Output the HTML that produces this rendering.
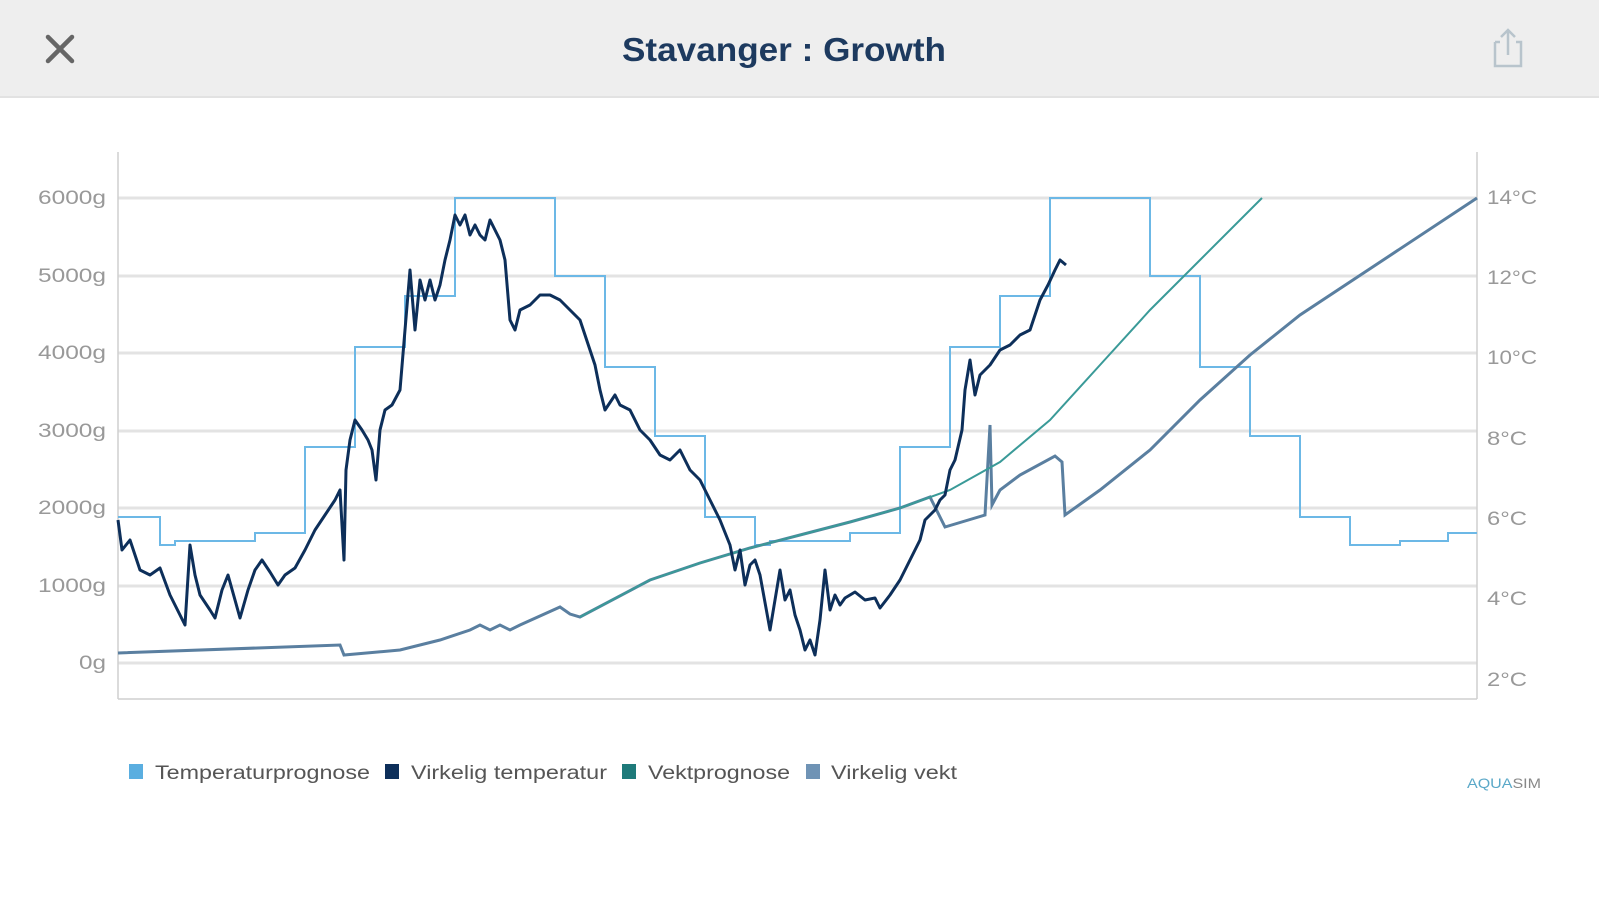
<!DOCTYPE html>
<html><head><meta charset="utf-8"><style>
html,body{margin:0;padding:0;background:#fff;width:1599px;height:900px;overflow:hidden;font-family:"Liberation Sans",sans-serif}
</style></head><body>
<svg width="1599" height="900" viewBox="0 0 1599 900" xmlns="http://www.w3.org/2000/svg" style="display:block">
<rect x="0" y="0" width="1599" height="96" fill="#eeeeee"/>
<rect x="0" y="96" width="1599" height="2" fill="#e2e2e2"/>
<path d="M48 37 L72 61 M72 37 L48 61" stroke="#666" stroke-width="4.5" stroke-linecap="round"/>
<text x="622" y="61" textLength="324" lengthAdjust="spacingAndGlyphs" font-size="33" font-weight="bold" fill="#1d3a5f">Stavanger : Growth</text>
<g stroke="#b8c4cc" stroke-width="2.5" fill="none"><path d="M1495 42 V66 H1521 V42 H1516 M1500 42 H1495"/><path d="M1508 30 V55 M1501 37 L1508 30 L1515 37"/></g>
<g stroke="#e3e3e3" stroke-width="3">
<line x1="118" y1="198" x2="1477" y2="198"/><line x1="118" y1="276" x2="1477" y2="276"/><line x1="118" y1="353" x2="1477" y2="353"/><line x1="118" y1="431" x2="1477" y2="431"/><line x1="118" y1="508" x2="1477" y2="508"/><line x1="118" y1="586" x2="1477" y2="586"/><line x1="118" y1="663" x2="1477" y2="663"/>
</g>
<g stroke="#cfcfcf" stroke-width="1.5"><line x1="118" y1="152" x2="118" y2="699"/><line x1="1477" y1="152" x2="1477" y2="699"/><line x1="118" y1="699" x2="1477" y2="699"/></g>
<g font-size="19" fill="#999">
<text x="38" y="204" textLength="68" lengthAdjust="spacingAndGlyphs">6000g</text><text x="38" y="282" textLength="68" lengthAdjust="spacingAndGlyphs">5000g</text><text x="38" y="359" textLength="68" lengthAdjust="spacingAndGlyphs">4000g</text><text x="38" y="437" textLength="68" lengthAdjust="spacingAndGlyphs">3000g</text><text x="38" y="514" textLength="68" lengthAdjust="spacingAndGlyphs">2000g</text><text x="38" y="592" textLength="68" lengthAdjust="spacingAndGlyphs">1000g</text><text x="79" y="669" textLength="27" lengthAdjust="spacingAndGlyphs">0g</text>
</g>
<g font-size="19" fill="#999">
<text x="1487" y="204" textLength="50" lengthAdjust="spacingAndGlyphs">14°C</text><text x="1487" y="284" textLength="50" lengthAdjust="spacingAndGlyphs">12°C</text><text x="1487" y="364" textLength="50" lengthAdjust="spacingAndGlyphs">10°C</text><text x="1487" y="445" textLength="40" lengthAdjust="spacingAndGlyphs">8°C</text><text x="1487" y="525" textLength="40" lengthAdjust="spacingAndGlyphs">6°C</text><text x="1487" y="605" textLength="40" lengthAdjust="spacingAndGlyphs">4°C</text><text x="1487" y="686" textLength="40" lengthAdjust="spacingAndGlyphs">2°C</text>
</g>
<polyline fill="none" stroke="#6cb8e6" stroke-width="2" points="118,517 160,517 160,545 175,545 175,541 255,541 255,533 305,533 305,447 355,447 355,347 405,347 405,296 455,296 455,198 555,198 555,276 605,276 605,367 655,367 655,436 705,436 705,517 755,517 755,545 770,545 770,541 850,541 850,533 900,533 900,447 950,447 950,347 1000,347 1000,296 1050,296 1050,198 1150,198 1150,276 1200,276 1200,367 1250,367 1250,436 1300,436 1300,517 1350,517 1350,545 1400,545 1400,541 1448,541 1448,533 1477,533"/>
<polyline fill="none" stroke="#5a7fa0" stroke-width="3" points="118,653 340,645 344,655 400,650 440,640 470,630 480,625 490,630 500,625 510,630 520,625 560,607 570,614 580,617 650,580 700,563 750,548 800,535 850,522 900,508 930,497 945,527 985,515 990,425 992,505 1000,490 1020,475 1055,456 1062,462 1065,515 1100,490 1150,450 1200,400 1250,355 1300,315 1477,198"/>
<polyline fill="none" stroke="#3a9a98" stroke-width="2" points="580,617 650,580 700,563 750,548 800,535 850,522 900,508 950,490 1000,462 1050,420 1100,365 1150,310 1200,260 1262,198"/>
<polyline fill="none" stroke="#0d2f5a" stroke-width="3" stroke-linejoin="round" points="118,520 122,550 130,540 140,570 150,575 160,568 170,595 180,615 185,625 190,545 195,575 200,595 210,610 215,618 222,590 228,575 235,600 240,618 248,590 255,570 262,560 270,572 278,585 285,575 295,568 305,550 315,530 325,515 335,500 340,490 344,560 346,470 350,440 355,420 362,430 368,440 372,450 376,480 380,430 385,410 392,405 400,390 405,330 410,270 415,330 420,280 425,300 430,280 435,300 440,285 445,260 450,240 455,215 460,225 465,215 470,235 475,225 480,235 485,240 490,220 495,230 500,240 505,260 510,320 515,330 520,310 530,305 540,295 550,295 560,300 570,310 580,320 585,335 590,350 595,365 600,390 605,410 615,395 620,405 630,410 640,430 650,440 660,455 670,460 680,450 690,470 700,480 710,500 720,520 730,545 735,570 740,550 745,585 750,565 755,560 760,575 770,630 775,600 780,570 785,600 790,590 795,615 800,630 805,650 810,640 815,655 820,620 825,570 830,610 835,595 840,605 845,598 855,592 865,600 875,598 880,608 890,595 900,580 910,560 920,540 925,520 935,510 940,500 945,495 950,470 955,460 962,430 965,390 970,360 975,395 980,375 990,365 1000,350 1010,345 1020,335 1030,330 1040,300 1048,285 1055,270 1060,260 1066,265"/>
<g font-size="19" fill="#555">
<rect x="129" y="764" width="14" height="15" fill="#5aaee0"/><text x="155" y="779" textLength="215" lengthAdjust="spacingAndGlyphs">Temperaturprognose</text>
<rect x="385" y="764" width="14" height="15" fill="#0d2f5a"/><text x="411" y="779" textLength="196" lengthAdjust="spacingAndGlyphs">Virkelig temperatur</text>
<rect x="622" y="764" width="14" height="15" fill="#1e7a7a"/><text x="648" y="779" textLength="142" lengthAdjust="spacingAndGlyphs">Vektprognose</text>
<rect x="806" y="764" width="14" height="15" fill="#6f93b5"/><text x="831" y="779" textLength="126" lengthAdjust="spacingAndGlyphs">Virkelig vekt</text>
</g>
<text x="1467" y="788" font-size="14" fill="#5aa8c8" textLength="74" lengthAdjust="spacingAndGlyphs">AQUA<tspan fill="#888">SIM</tspan></text>
</svg>
</body></html>
